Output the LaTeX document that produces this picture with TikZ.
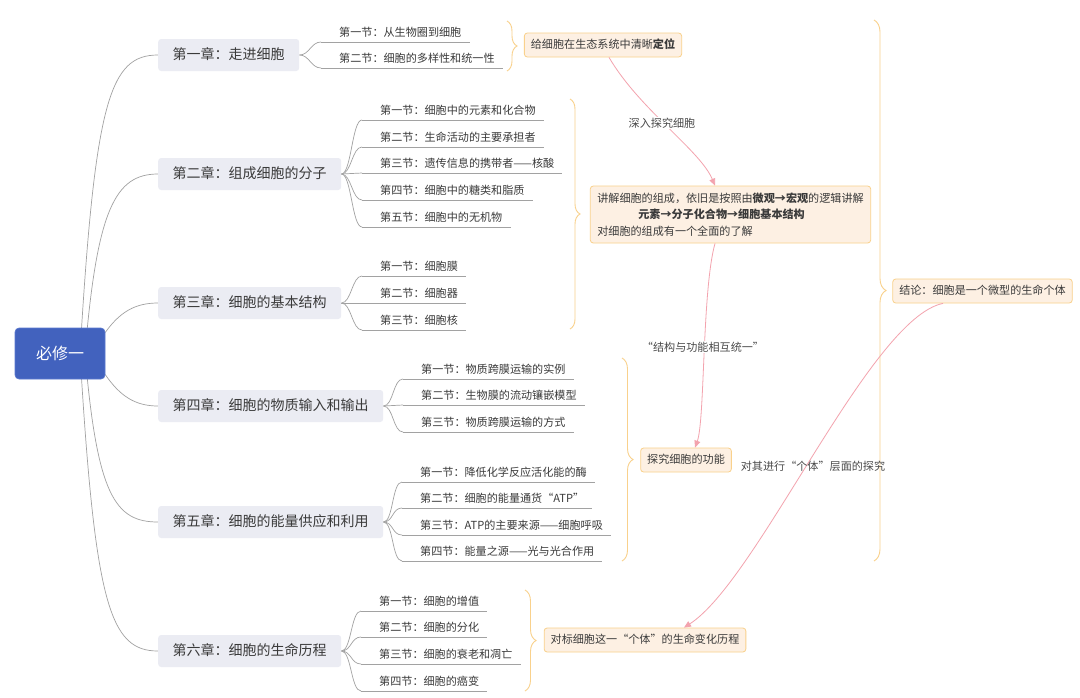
\documentclass[tikz,border=0pt]{standalone}
\usepackage{fontspec}
\setmainfont{Noto Sans CJK SC}
\usetikzlibrary{arrows.meta,decorations.pathreplacing,backgrounds,calc}
\definecolor{txt}{HTML}{3A3A3A}
\definecolor{labtxt}{HTML}{4A4A4A}
\definecolor{chapfill}{HTML}{EBECF3}
\definecolor{linkgray}{HTML}{A2A2A2}
\definecolor{rootfill}{HTML}{4262BE}
\definecolor{rootdraw}{HTML}{5B79CF}
\definecolor{sumfill}{HTML}{FDF0E3}
\definecolor{sumdraw}{HTML}{F9D18C}
\definecolor{bracecol}{HTML}{F9D18C}
\definecolor{relcol}{HTML}{F3A3AE}
\newcommand\myfsec{\fontsize{11.1pt}{13pt}\selectfont}
\newcommand\myfchap{\fontsize{14pt}{16pt}\selectfont}
\begin{document}
\begin{tikzpicture}[x=1pt,y=-1pt,
  rootbox/.style={fill=rootfill, draw=rootdraw, line width=0.6pt, rounded corners=4pt,
    minimum width=90pt, minimum height=51pt, text=white, font=\fontsize{16pt}{18pt}\selectfont},
  chap/.style={fill=chapfill, rounded corners=3pt, minimum height=32pt, inner xsep=14.5pt,
    text height=11pt, text depth=3pt, font=\myfchap, text=txt, anchor=west},
  sec/.style={anchor=south west, inner xsep=0pt, inner ysep=3pt, text height=9pt, text depth=2.5pt,
    font=\myfsec, text=txt, execute at begin node={\hspace*{18pt}}, execute at end node={\hspace*{8pt}}},
  sumbox/.style={draw=sumdraw, fill=sumfill, rounded corners=3pt, line width=0.8pt,
    inner xsep=6.5pt, inner ysep=0pt, minimum height=24pt, font=\myfsec, text=txt},
  oneline/.style={text height=9pt, text depth=2.5pt},
  link/.style={draw=linkgray, line width=0.7pt},
  under/.style={draw=linkgray, line width=0.8pt},
  bracestyle/.style={draw=bracecol, line width=0.9pt, decorate},
  rel/.style={draw=relcol, line width=0.8pt, -{Triangle[length=7pt,width=6pt]}},
  lab/.style={font=\myfsec, text=labtxt, inner sep=1pt}
]
\useasboundingbox (0,0) rectangle (1080,697);

% root and chapters
\node[rootbox] (root) at (60,353.5) {必修一};
\node[chap] (ch1) at (158,55) {第一章：走进细胞};
\node[chap] (ch2) at (158,174) {第二章：组成细胞的分子};
\node[chap] (ch3) at (158,303) {第三章：细胞的基本结构};
\node[chap] (ch4) at (158,406) {第四章：细胞的物质输入和输出};
\node[chap] (ch5) at (158,522) {第五章：细胞的能量供应和利用};
\node[chap] (ch6) at (158,651) {第六章：细胞的生命历程};

% sections
\node[sec] (c1s1) at (321,42) {第一节：从生物圈到细胞};
\node[sec] (c1s2) at (321,68) {第二节：细胞的多样性和统一性};

\node[sec] (c2s1) at (362,120) {第一节：细胞中的元素和化合物};
\node[sec] (c2s2) at (362,147) {第二节：生命活动的主要承担者};
\node[sec] (c2s3) at (362,173) {第三节：遗传信息的携带者——核酸};
\node[sec] (c2s4) at (362,200) {第四节：细胞中的糖类和脂质};
\node[sec] (c2s5) at (362,227) {第五节：细胞中的无机物};

\node[sec] (c3s1) at (362,276) {第一节：细胞膜};
\node[sec] (c3s2) at (362,303) {第二节：细胞器};
\node[sec] (c3s3) at (362,330) {第三节：细胞核};

\node[sec] (c4s1) at (403,379) {第一节：物质跨膜运输的实例};
\node[sec] (c4s2) at (403,405) {第二节：生物膜的流动镶嵌模型};
\node[sec] (c4s3) at (403,432) {第三节：物质跨膜运输的方式};

\node[sec] (c5s1) at (402,482) {第一节：降低化学反应活化能的酶};
\node[sec] (c5s2) at (402,508) {第二节：细胞的能量通货“ATP”};
\node[sec] (c5s3) at (402,535) {第三节：ATP的主要来源——细胞呼吸};
\node[sec] (c5s4) at (402,561) {第四节：能量之源——光与光合作用};

\node[sec] (c6s1) at (361,611) {第一节：细胞的增值};
\node[sec] (c6s2) at (361,637) {第二节：细胞的分化};
\node[sec] (c6s3) at (361,664) {第三节：细胞的衰老和凋亡};
\node[sec] (c6s4) at (361,691) {第四节：细胞的癌变};

% summary boxes
\node[sumbox, oneline] (sum1) at (603,45) {给细胞在生态系统中清晰\textbf{定位}};
\node[sumbox, align=left, minimum height=57pt, inner xsep=7pt, font=\fontsize{11.1pt}{16.5pt}\selectfont] (sum2) at (730.5,214.5)
  {讲解细胞的组成，依旧是按照由\textbf{微观→宏观}的逻辑讲解\\
   \hspace*{41pt}\textbf{元素→分子化合物→细胞基本结构}\\
   对细胞的组成有一个全面的了解};
\node[sumbox, oneline] (sum3) at (686,460) {探究细胞的功能};
\node[sumbox, oneline] (sum4) at (645,640) {对标细胞这一“个体”的生命变化历程};
\node[sumbox, oneline] (conc) at (982.5,291) {结论：细胞是一个微型的生命个体};

% connectors on background
\begin{scope}[on background layer]
  \fill[white] (0,0) rectangle (1080,697);
  \draw[link] ([xshift=20pt]root.center) .. controls (95,100) and (110,55) .. (ch1.west);
  \draw[link] ([xshift=25pt]root.center) .. controls (97,210) and (115,174) .. (ch2.west);
  \draw[link] (root.25) .. controls (120,312) and (135,303) .. (ch3.west);
  \draw[link] (root.-25) .. controls (120,396) and (135,406) .. (ch4.west);
  \draw[link] ([xshift=25pt]root.center) .. controls (97,495) and (115,522) .. (ch5.west);
  \draw[link] ([xshift=20pt]root.center) .. controls (95,605) and (110,651) .. (ch6.west);
  \foreach \c/\s in {ch1/c1s1,ch1/c1s2,
      ch2/c2s1,ch2/c2s2,ch2/c2s3,ch2/c2s4,ch2/c2s5,
      ch3/c3s1,ch3/c3s2,ch3/c3s3,
      ch4/c4s1,ch4/c4s2,ch4/c4s3,
      ch5/c5s1,ch5/c5s2,ch5/c5s3,ch5/c5s4,
      ch6/c6s1,ch6/c6s2,ch6/c6s3,ch6/c6s4}{
    \draw[link] (\c.east) .. controls +(10,0) and +(-10,0) .. (\s.south west);
    \draw[under] (\s.south west) -- (\s.south east);
  }
\end{scope}

% braces
\coordinate (b1t) at (507,21);  \coordinate (b1b) at (507,71);
\coordinate (b2t) at (570,99);  \coordinate (b2b) at (570,329);
\coordinate (b3t) at (622,358); \coordinate (b3b) at (622,561);
\coordinate (b4t) at (525,590); \coordinate (b4b) at (525,691);
\coordinate (b5t) at (874,20);  \coordinate (b5b) at (874,561);
\draw[bracestyle, decoration={brace, amplitude=10pt}] (b1t) -- (b1b);
\draw[bracestyle, decoration={brace, amplitude=10pt}] (b2t) -- (b2b);
\draw[bracestyle, decoration={brace, amplitude=11pt}] (b3t) -- (b3b);
\draw[bracestyle, decoration={brace, amplitude=11pt}] (b4t) -- (b4b);
\draw[bracestyle, decoration={brace, amplitude=12pt}] (b5t) -- (b5b);

% relationship arrows
\draw[rel] ([xshift=6pt]sum1.south) .. controls (640,110) and (700,150) .. ([xshift=-15.5pt]sum2.north);
\draw[rel] ([xshift=-15.5pt]sum2.south) .. controls (702,290) and (705,420) .. ([xshift=9pt]sum3.north);
\draw[rel] ([xshift=-39.5pt]conc.south) .. controls (870,318) and (758,580) .. ([xshift=39pt]sum4.north);

\node[lab, fill=white] (l1) at (662,123) {深入探究细胞};
\node[lab, fill=white] (l2) at (703,347) {“结构与功能相互统一”};
\node[lab] (l3) at (813,466) {对其进行“个体”层面的探究};
\end{tikzpicture}
\end{document}
